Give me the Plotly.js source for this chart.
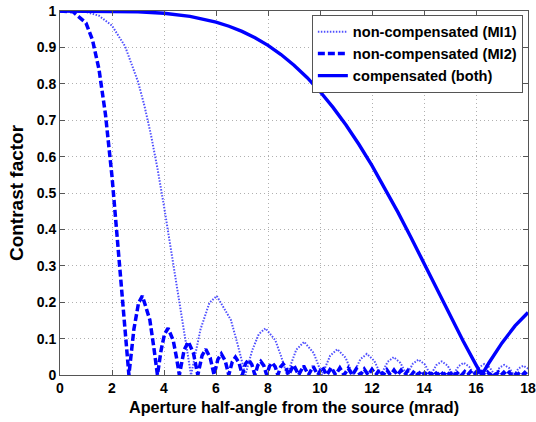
<!DOCTYPE html>
<html>
<head>
<meta charset="utf-8">
<script src="https://cdn.plot.ly/plotly-3.0.1.min.js"></script>
<style>html,body{margin:0;padding:0;background:#fff}#chart{width:536px;height:422px}</style>
</head>
<body>
<div id="chart"></div>
<script>
// Series
var mi1X = [0,0.5,1,1.5,2,2.5,3,3.25,3.5,3.75,4,4.25,4.5,4.75,5.04,
  5.405,5.746,6.028,6.571,6.855,7.128,
  7.390,7.644,7.903,8.282,8.508,8.729,
  9.086,9.390,9.760,10.080,
  10.390,10.665,10.984,11.270,
  11.548,11.800,12.086,12.345,
  12.600,12.834,13.094,13.335,
  13.571,13.790,14.031,14.255,
  14.476,14.684,14.909,15.120,
  15.329,15.526,15.737,15.938,
  16.136,16.324,16.525,16.716,
  16.905,17.085,17.276,17.459,
  17.640,17.813,17.996,18.172];
var mi1Y = [1,0.9998,0.9975,0.9871,0.9597,0.9034,0.8059,0.7389,0.6590,0.5669,0.4638,0.3528,0.2375,0.1233,0,
  0.1257,0.1981,0.2172,0.1515,0.0781,0,
  0.0672,0.1120,0.1284,0.0954,0.0507,0,
  0.0693,0.0913,0.0600,0,
  0.0530,0.0709,0.0474,0,
  0.0429,0.0580,0.0391,0,
  0.0360,0.0490,0.0333,0,
  0.0310,0.0424,0.0290,0,
  0.0273,0.0374,0.0257,0,
  0.0243,0.0335,0.0231,0,
  0.0220,0.0303,0.0209,0,
  0.0200,0.0277,0.0192,0,
  0.0184,0.0255,0.0177,0];

var mi2X = [0,0.5,1,1.25,1.5,1.75,2,2.25,2.5,2.65,
  2.842,3.021,3.169,3.455,3.604,3.748,
  3.886,4.019,4.156,4.354,4.474,4.590,
  4.777,4.937,5.132,5.300,
  5.463,5.607,5.776,5.926,
  6.072,6.204,6.354,6.491,
  6.625,6.748,6.885,7.011,
  7.135,7.251,7.377,7.495,
  7.612,7.721,7.839,7.950,
  8.060,8.163,8.275,8.380,
  8.484,8.583,8.689,8.789,
  8.987,9.180,9.369,9.555,9.737,9.915,10.091,10.263,10.433,10.600,
  10.764,10.926,11.086,11.243,11.398,11.551,11.702,11.851,11.998,12.144,
  12.288,12.430,12.570,12.709,12.846,12.982,13.117,13.250,13.382,13.512,
  13.642,13.770,13.897,14.022,14.147,14.271,14.393,14.515,14.635,14.755,
  14.873,14.991,15.107,15.223,15.338,15.452,15.565,15.678,15.789,15.900,
  16.010,16.119,16.228,16.336,16.443,16.549,16.655,16.760,16.865,16.968,
  17.071,17.174,17.276,17.377,17.478,17.578,17.678,17.777,17.875,17.973,18.071];
var mi2Y = [1,0.9979,0.9670,0.9205,0.8396,0.7153,0.5455,0.3395,0.1212,0,
  0.1257,0.1981,0.2172,0.1515,0.0781,0,
  0.0672,0.1120,0.1284,0.0954,0.0507,0,
  0.0693,0.0913,0.0600,0,
  0.0530,0.0709,0.0474,0,
  0.0429,0.0580,0.0391,0,
  0.0360,0.0490,0.0333,0,
  0.0310,0.0424,0.0290,0,
  0.0273,0.0374,0.0257,0,
  0.0243,0.0335,0.0231,0,
  0.0220,0.0303,0.0209,0,
  0.0277,0,0.0255,0,0.0236,0,0.0220,0,0.0205,0,
  0.0193,0,0.0182,0,0.0172,0,0.0163,0,0.0155,0,
  0.0148,0,0.0141,0,0.0135,0,0.0130,0,0.0125,0,
  0.0120,0,0.0116,0,0.0112,0,0.0108,0,0.0104,0,
  0.0101,0,0.0098,0,0.0095,0,0.0092,0,0.0090,0,
  0.0087,0,0.0085,0,0.0083,0,0.0081,0,0.0079,0,
  0.0077,0,0.0075,0,0.0073,0,0.0072,0,0.0070,0,0.0068];

var compX = [0,1,2,3,4,5,6,6.5,7,7.5,8,8.5,9,9.5,10,10.5,11,11.5,12,12.5,13,13.5,14,14.5,15,15.5,16,16.22,16.5,17,17.5,18];
var compY = [1,1.0000,0.9996,0.9981,0.9939,0.9852,0.9695,0.9581,0.9439,0.9265,0.9055,0.8805,0.8512,0.8174,0.7788,0.7352,0.6867,0.6332,0.5751,0.5128,0.4467,0.3778,0.3069,0.2350,0.1635,0.0939,0.0277,0,0.0336,0.0882,0.1348,0.1719];

var names = ['non-compensated (MI1)', 'non-compensated (MI2)', 'compensated (both)'];
var xTicks = [0,2,4,6,8,10,12,14,16,18];
var yTicks = [0,0.1,0.2,0.3,0.4,0.5,0.6,0.7,0.8,0.9,1];

var traces = [
  {x: mi1X, y: mi1Y, type: 'scatter', mode: 'lines', name: names[0],
   line: {color: 'rgb(80,80,255)', width: 2, dash: '1.5px,1.5px'}},
  {x: mi2X, y: mi2Y, type: 'scatter', mode: 'lines', name: names[1],
   line: {color: 'rgb(0,0,255)', width: 3.5, dash: '7px,3px'}},
  {x: compX, y: compY, type: 'scatter', mode: 'lines', name: names[2],
   line: {color: 'rgb(0,0,255)', width: 3.4}}
];

var fontFam = 'Liberation Sans, Arial, sans-serif';
var axisCommon = {
  showline: true, mirror: 'ticks', linecolor: '#555555', linewidth: 1,
  ticks: 'inside', ticklen: 5, tickcolor: '#555555',
  showgrid: true, gridcolor: '#b0b0b0', griddash: '1px,3px', gridwidth: 1,
  zeroline: false, ticklabeloverflow: 'allow',
  tickfont: {family: fontFam, size: 14, color: '#000', weight: 'bold'}
};

var layout = {
  width: 536, height: 422,
  margin: {l: 60, r: 8, t: 11, b: 47},
  paper_bgcolor: '#fff', plot_bgcolor: '#fff',
  showlegend: true,
  legend: {x: 0.989, xanchor: 'right', y: 0.99, yanchor: 'top',
    bgcolor: '#fff', bordercolor: '#555555', borderwidth: 1,
    font: {family: fontFam, size: 14.6, color: '#000', weight: 'bold'},
    tracegroupgap: 0, itemwidth: 30},
  xaxis: Object.assign({}, axisCommon, {
    range: [0, 18], tickvals: xTicks, ticktext: xTicks.map(String),
    title: {text: 'Aperture half-angle from the source (mrad)', standoff: 6,
      font: {family: fontFam, size: 16.2, color: '#000', weight: 'bold'}}
  }),
  yaxis: Object.assign({}, axisCommon, {
    range: [0, 1], tickvals: yTicks, ticktext: yTicks.map(String),
    title: {text: 'Contrast factor', standoff: 8,
      font: {family: fontFam, size: 19, color: '#000', weight: 'bold'}}
  })
};

Plotly.newPlot('chart', traces, layout, {displayModeBar: false, staticPlot: true});
</script>
</body>
</html>
